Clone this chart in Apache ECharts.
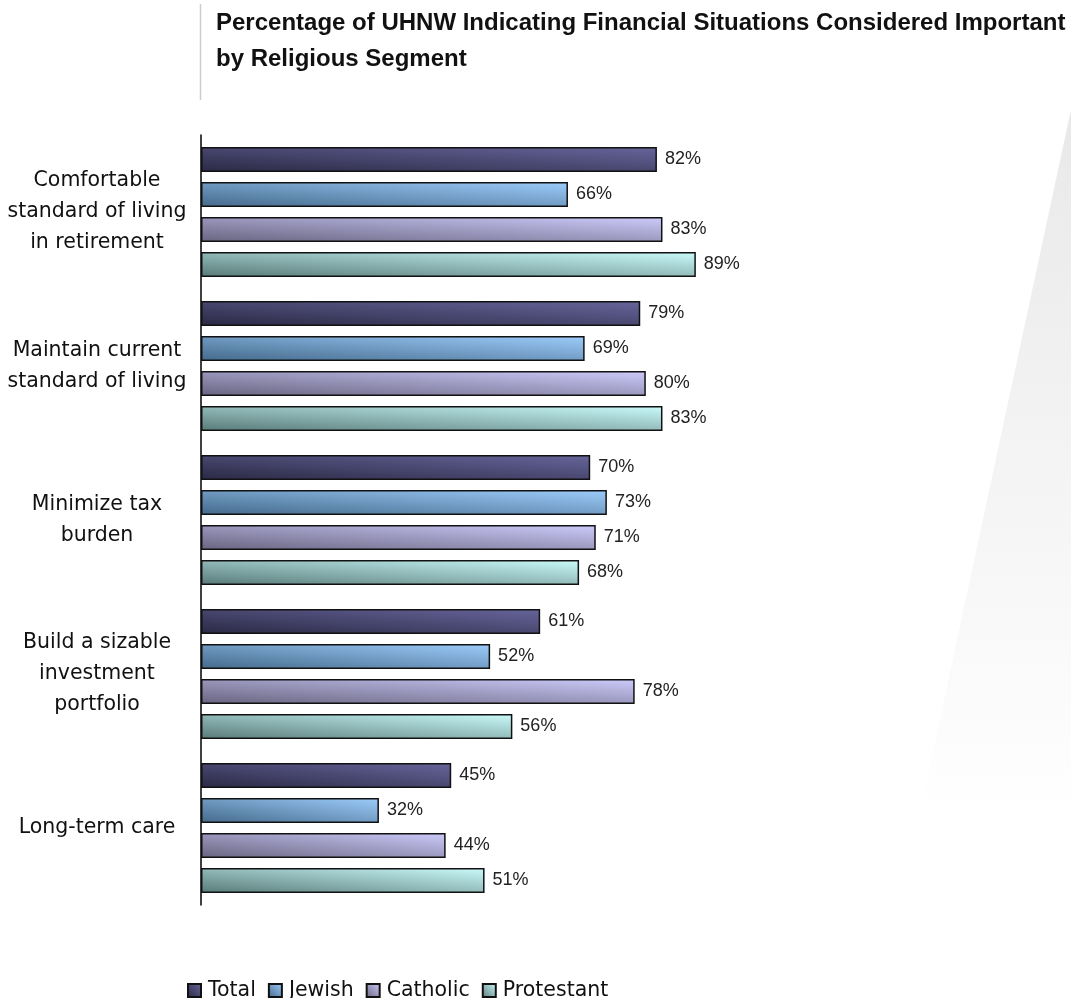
<!DOCTYPE html>
<html>
<head>
<meta charset="utf-8">
<script src="https://cdn.jsdelivr.net/npm/echarts@6/dist/echarts.min.js"></script>
<style>
  html, body { margin: 0; padding: 0; background: #fff; }
  #chart { width: 1071px; height: 998px; }
</style>
</head>
<body>
<div id="chart"></div>
<script>
// Financial situations rated important, by religious segment (percent of UHNW)
const categories = [
  'Comfortable\nstandard of living\nin retirement',
  'Maintain current\nstandard of living',
  'Minimize tax\nburden',
  'Build a sizable\ninvestment\nportfolio',
  'Long-term care'
];
const seriesNames = ['Total', 'Jewish', 'Catholic', 'Protestant'];
const total      = [82, 79, 70, 61, 45];
const jewish     = [66, 69, 73, 52, 32];
const catholic   = [83, 80, 71, 78, 44];
const protestant = [89, 83, 68, 56, 51];

// dark (lower-left) and light (upper-right) shade of each segment
const shades = [
  ['#2a2944', '#67659b'],
  ['#44698a', '#9dcdfc'],
  ['#68647f', '#cdcbfb'],
  ['#587a78', '#cbfbfb']
];

const GRID_LEFT = 201, GRID_TOP = 135, GRID_W = 556, GRID_H = 770;
const X_MAX = 100;
const BAR_H = 25;

// Diagonal shading: darkens toward the bottom and toward the left of each bar.
function barFill(value, dark, light) {
  const w = Math.max(1, value * GRID_W / X_MAX);
  const h = BAR_H;
  const gx = 0.5 / w, gy = -0.5 / h;
  const n = gx * gx + gy * gy;
  const vx = gx / n, vy = gy / n;
  return new echarts.graphic.LinearGradient(0, 1, vx / w, 1 + vy / h, [
    { offset: 0, color: dark },
    { offset: 1, color: light }
  ]);
}

const seriesValues = [total, jewish, catholic, protestant];

const chart = echarts.init(document.getElementById('chart'), null, { renderer: 'canvas' });

chart.setOption({
  backgroundColor: '#ffffff',
  animation: false,
  title: {
    text: 'Percentage of UHNW Indicating Financial Situations Considered Important\nby Religious Segment',
    left: 211,
    top: 0,
    textStyle: {
      fontFamily: 'Liberation Sans, Arial, sans-serif',
      fontWeight: 'bold',
      fontSize: 24,
      lineHeight: 36,
      color: '#111'
    }
  },
  graphic: [
    {
      type: 'polygon',
      z: -10,
      silent: true,
      shape: { points: [[1086, 40], [1200, 40], [1200, 998], [880, 998]] },
      style: {
        fill: new echarts.graphic.LinearGradient(0, 90, 0, 820, [
          { offset: 0, color: '#e8e8e8' },
          { offset: 1, color: '#ffffff' }
        ], true)
      }
    },
    {
      type: 'line',
      z: -5,
      silent: true,
      shape: { x1: 200.5, y1: 4, x2: 200.5, y2: 100 },
      style: { stroke: '#cccccc', lineWidth: 1.5 }
    }
  ],
  legend: {
    left: 182,
    top: 975,
    icon: 'rect',
    itemWidth: 13,
    itemHeight: 13,
    itemGap: 12,
    textStyle: {
      fontFamily: 'DejaVu Sans, sans-serif',
      fontSize: 20.5,
      color: '#111',
      padding: [0, 0, 0, 2]
    },
    data: seriesNames
  },
  grid: {
    left: GRID_LEFT,
    top: GRID_TOP,
    width: GRID_W,
    height: GRID_H,
    containLabel: false
  },
  xAxis: {
    type: 'value',
    min: 0,
    max: X_MAX,
    show: false,
    splitLine: { show: false }
  },
  yAxis: {
    type: 'category',
    inverse: true,
    data: categories,
    axisLine: { show: true, lineStyle: { color: '#000', width: 1.5 } },
    axisTick: { show: false },
    axisLabel: {
      align: 'center',
      margin: 104,
      fontFamily: 'DejaVu Sans, sans-serif',
      fontSize: 20.5,
      lineHeight: 31,
      color: '#111'
    }
  },
  series: seriesNames.map((name, i) => ({
    name,
    type: 'bar',
    barWidth: BAR_H,
    barGap: '40%',
    itemStyle: {
      color: new echarts.graphic.LinearGradient(0, 1, 1, 0, [
        { offset: 0, color: shades[i][0] },
        { offset: 1, color: shades[i][1] }
      ]),
      borderColor: '#111',
      borderWidth: 1.5
    },
    label: {
      show: true,
      position: 'right',
      distance: 8,
      formatter: '{c}%',
      fontFamily: 'Liberation Sans, Arial, sans-serif',
      fontSize: 18,
      color: '#222'
    },
    data: seriesValues[i].map(v => ({
      value: v,
      itemStyle: { color: barFill(v, shades[i][0], shades[i][1]) }
    }))
  }))
});
</script>
</body>
</html>
